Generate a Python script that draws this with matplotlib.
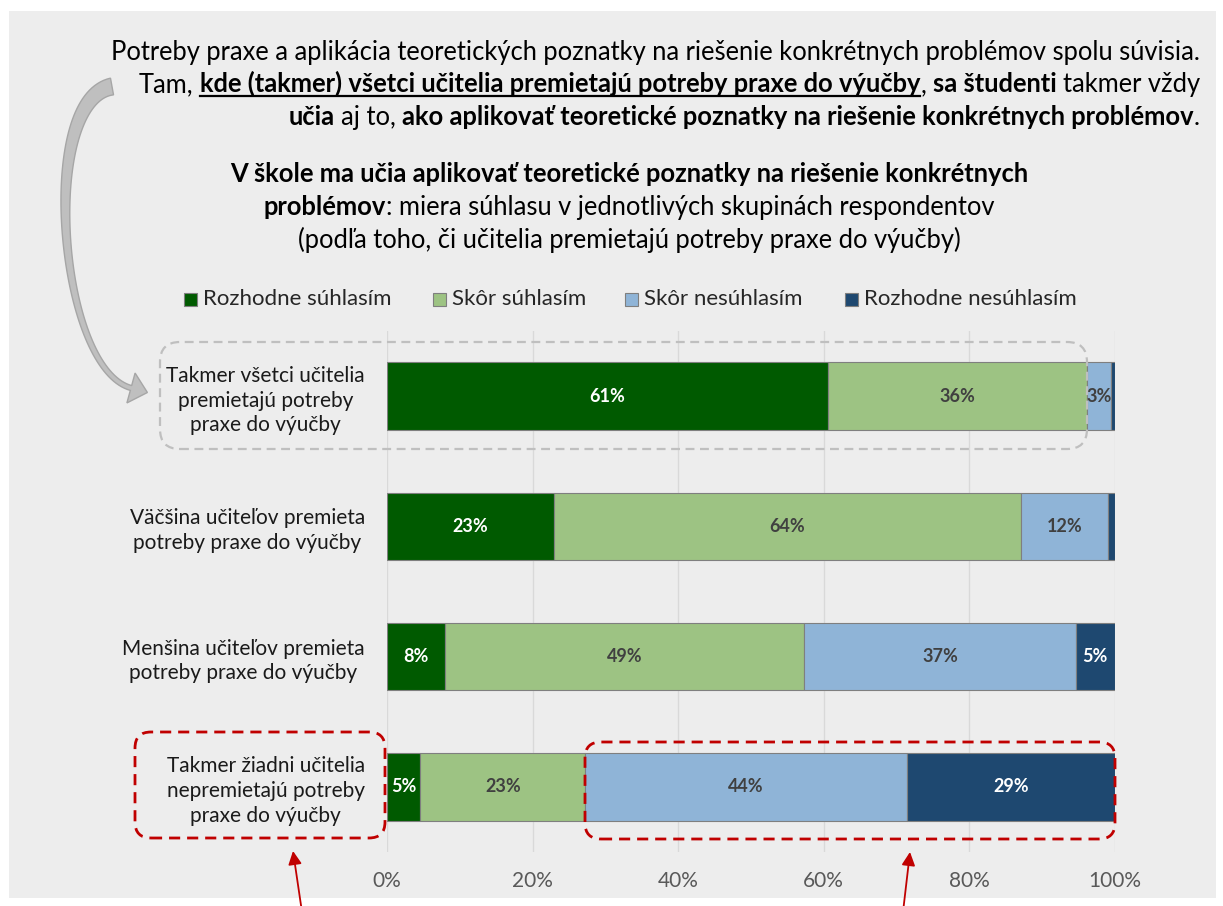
import matplotlib
matplotlib.use("Agg")
import matplotlib.pyplot as plt
import numpy as np
from matplotlib.patches import Rectangle, FancyBboxPatch, FancyArrowPatch, PathPatch
from matplotlib.path import Path
from matplotlib.transforms import IdentityTransform
from matplotlib.lines import Line2D

plt.rcParams['font.family'] = ['Lato', 'DejaVu Sans']

# data (percent of respondents)
categories = [
    "Takmer všetci učitelia\npremietajú potreby\npraxe do výučby",
    "Väčšina učiteľov premieta\npotreby praxe do výučby",
    "Menšina učiteľov premieta\npotreby praxe do výučby",
    "Takmer žiadni učitelia\nnepremietajú potreby\npraxe do výučby",
]
series_names = ["Rozhodne súhlasím", "Skôr súhlasím", "Skôr nesúhlasím", "Rozhodne nesúhlasím"]
rozhodne_suhlasim = [60.6, 22.9, 7.9, 4.6]
skor_suhlasim = [35.6, 64.2, 49.4, 22.6]
skor_nesuhlasim = [3.3, 11.9, 37.3, 44.2]
rozhodne_nesuhlasim = [0.5, 1.0, 5.4, 28.6]
x_ticks = [0, 20, 40, 60, 80, 100]
x_ticklabels = ["0%", "20%", "40%", "60%", "80%", "100%"]

colors = ["#005a00", "#9dc383", "#8fb4d7", "#1e4870"]
label_colors = ["white", "#404040", "#404040", "white"]

W, H = 1223, 906
fig = plt.figure(figsize=(12.23, 9.06), dpi=100)
ident = IdentityTransform()
renderer = fig.canvas.get_renderer()

# grey panel
fig.patches.append(Rectangle((9, H - 898), 1207, 887, transform=ident,
                             facecolor="#ededed", edgecolor="none", zorder=-5))


def adv(s, size, weight):
    t = fig.text(0, 0, "|" + s + "|", size=size, weight=weight)
    t0 = fig.text(0, 0, "||", size=size, weight=weight)
    w = t.get_window_extent(renderer).width - t0.get_window_extent(renderer).width
    t.remove()
    t0.remove()
    return w


def rich_line(segments, x, y, size, ha):
    widths = [adv(s, size, "bold" if b else "normal") for s, b, u in segments]
    total = sum(widths)
    x0 = x - total if ha == "right" else x - total / 2
    for (s, b, u), w in zip(segments, widths):
        weight = "bold" if b else "normal"
        core = s.strip()
        lead = s[:len(s) - len(s.lstrip())]
        lw_ = adv(lead, size, weight) if lead else 0
        fig.text(x0 + lw_, H - y, core, transform=ident, size=size,
                 weight=weight, color="black", va="baseline", ha="left")
        if u:
            cw = adv(core, size, weight)
            fig.lines.append(Line2D([x0 + lw_, x0 + lw_ + cw], [H - y - 4, H - y - 4],
                                    transform=ident, color="black", lw=1.6))
        x0 += w


# paragraph at top
psize = 18.4
rich_line([("Potreby praxe a aplikácia teoretických poznatky na riešenie konkrétnych problémov spolu súvisia.", False, False)],
          1200, 60, psize, "right")
rich_line([("Tam, ", False, False),
           ("kde (takmer) všetci učitelia premietajú potreby praxe do výučby", True, True),
           (", ", False, False), ("sa študenti", True, False), (" takmer vždy", False, False)],
          1200, 92, psize, "right")
rich_line([("učia", True, False), (" aj to, ", False, False),
           ("ako aplikovať teoretické poznatky na riešenie konkrétnych problémov", True, False),
           (".", False, False)],
          1200, 125, psize, "right")

# chart title
rich_line([("V škole ma učia aplikovať teoretické poznatky na riešenie konkrétnych", True, False)],
          629, 182, psize, "center")
rich_line([("problémov", True, False), (": miera súhlasu v jednotlivých skupinách respondentov", False, False)],
          629, 215, psize, "center")
rich_line([("(podľa toho, či učitelia premietajú potreby praxe do výučby)", False, False)],
          629, 248, psize, "center")

# legend
leg_marker_x = [184, 433, 625, 845]
for name, c, mx in zip(series_names, colors, leg_marker_x):
    fig.patches.append(Rectangle((mx, H - 299 - 6.5), 13, 13, transform=ident,
                                 facecolor=c, edgecolor="#7f7f7f", lw=0.8))
    fig.text(mx + 19, H - 299, name, transform=ident, size=16, va="center",
             ha="left", color="#262626")

# bars
ax = fig.add_axes([387 / W, 1 - 852 / H, 728 / W, 521 / H])
ax.set_facecolor("none")
y = np.arange(len(categories))
left = np.zeros(len(categories))
for vals, c, lc in zip([rozhodne_suhlasim, skor_suhlasim, skor_nesuhlasim, rozhodne_nesuhlasim],
                       colors, label_colors):
    vals = np.array(vals)
    ax.barh(y, vals, left=left, height=0.52, color=c, edgecolor="#7f7f7f", linewidth=0.8, zorder=2)
    for yi, v, l in zip(y, vals, left):
        if v >= 2:
            ax.text(l + v / 2, yi, f"{round(v)}%", ha="center", va="center",
                    color=lc, fontsize=13, fontweight="bold", zorder=3)
    left = left + vals

ax.set_xlim(0, 100)
ax.set_ylim(3.5, -0.5)
ax.set_xticks(x_ticks)
ax.set_xticklabels(x_ticklabels, fontsize=15, color="#595959")
ax.set_yticks(y)
ax.set_yticklabels(categories, fontsize=15, color="#1a1a1a", ha="right",
                   multialignment="center", linespacing=1.3)
ax.tick_params(axis="y", length=0, pad=16)
ax.tick_params(axis="x", length=0, pad=14)
ax.grid(axis="x", color="#d9d9d9", lw=1, zorder=0)
ax.set_axisbelow(True)
for s in ax.spines.values():
    s.set_visible(False)


def rbox(x0, y0, x1, y1, color, lw, r):
    fig.patches.append(FancyBboxPatch((x0, H - y1), x1 - x0, y1 - y0,
                                      boxstyle=f"round,pad=0,rounding_size={r}",
                                      transform=ident, facecolor="none", edgecolor=color,
                                      lw=lw, linestyle=(0, (4, 2.5)), zorder=5))


rbox(160, 342, 1087, 449, "#bfbfbf", 1.6, 20)
rbox(135, 732, 385, 838, "#c00000", 2.0, 16)
rbox(585, 742, 1115, 839, "#c00000", 2.0, 16)

# red arrows
for tail, tip in [((302, 912), (293, 851)), ((903, 912), (910, 852))]:
    fig.patches.append(FancyArrowPatch((tail[0], H - tail[1]), (tip[0], H - tip[1]),
                                       transform=ident, arrowstyle="-|>", mutation_scale=20,
                                       color="#c00000", lw=1.3, shrinkA=0, shrinkB=0, zorder=6))

# curved grey arrow (tapered)
P0, P1, P2, P3 = map(np.array, [(112, 86.5), (38, 100), (58, 368), (131, 388)])
t = np.linspace(0, 1, 80)[:, None]
B = (1 - t) ** 3 * P0 + 3 * (1 - t) ** 2 * t * P1 + 3 * (1 - t) * t ** 2 * P2 + t ** 3 * P3
D = 3 * (1 - t) ** 2 * (P1 - P0) + 6 * (1 - t) * t * (P2 - P1) + 3 * t ** 2 * (P3 - P2)
D = D / np.linalg.norm(D, axis=1)[:, None]
N = np.column_stack([-D[:, 1], D[:, 0]])
wid = 5 + 12 * (1 - t[:, 0]) ** 2
side_a = B + N * wid[:, None] / 2
side_b = B - N * wid[:, None] / 2
u, n = D[-1], N[-1]
head = [P3 + n * 15.5, P3 + u * 17, P3 - n * 15.5]
pts = np.vstack([side_a, head, side_b[::-1], side_a[:1]])
pts[:, 1] = H - pts[:, 1]
fig.patches.append(PathPatch(Path(pts, closed=True), transform=ident,
                             facecolor="#bfbfbf", edgecolor="#a6a6a6", lw=1, zorder=4))

fig.savefig("out.png", dpi=100, facecolor="white")
